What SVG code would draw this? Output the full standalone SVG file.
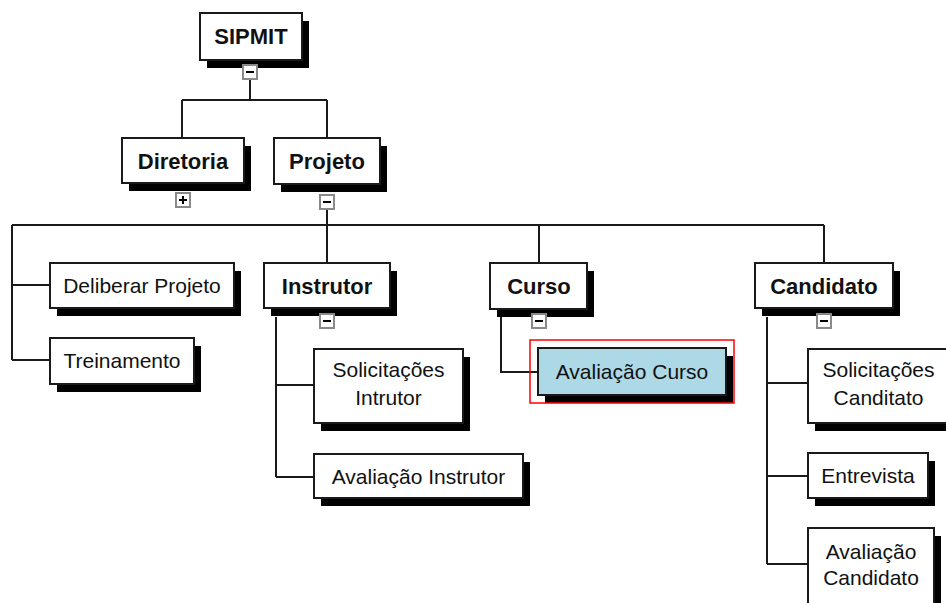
<svg xmlns="http://www.w3.org/2000/svg" width="946" height="603" viewBox="0 0 946 603">
<style>
.box{fill:#fff;stroke:#1a1a1a;stroke-width:2}
.sel{fill:#ADD8E6;stroke:#1a1a1a;stroke-width:2}
.sh{fill:#000}
.lbl{font-family:"Liberation Sans",Arial,sans-serif;font-size:21px;fill:#111;text-anchor:middle}
.bold{font-weight:bold;font-size:22px}
.tg{fill:#fff;stroke:#8a8a8a;stroke-width:2}
.tgs{stroke:#000;stroke-width:2}
.con{fill:none;stroke:#1a1a1a;stroke-width:2}
</style>
<rect width="946" height="603" fill="#fff"/>
<g id="connectors">
<path class="con" d="M250 79V100M182 100H327M182 100V138M327 100V138"/>
<path class="con" d="M327 209V263M12 225H824M12 225V360M12 285H50M12 360H50M539 225V263M824 225V263"/>
<path class="con" d="M276 317V477M276 385H314M276 477H314"/>
<path class="con" d="M501 317V372H538"/>
<path class="con" d="M767 317V564M767 383H808M767 476H808M767 564H808"/>
</g>
<g id="n-sipmit">
<rect class="sh" x="207" y="21" width="102" height="47"/>
<rect class="box" x="200" y="13" width="102" height="47"/>
<text class="lbl bold" x="251" y="44">SIPMIT</text>
<rect class="tg" x="243" y="65" width="14" height="14"/>
<line class="tgs" x1="246" y1="72" x2="254" y2="72"/>
</g>
<g id="n-diretoria">
<rect class="sh" x="129" y="146" width="122" height="45"/>
<rect class="box" x="122" y="138" width="122" height="45"/>
<text class="lbl bold" x="183" y="168.5">Diretoria</text>
<rect class="tg" x="176" y="193" width="14" height="14"/>
<line class="tgs" x1="179" y1="200" x2="187" y2="200"/>
<line class="tgs" x1="183" y1="196" x2="183" y2="204"/>
</g>
<g id="n-projeto">
<rect class="sh" x="281" y="146" width="106" height="46"/>
<rect class="box" x="274" y="138" width="106" height="46"/>
<text class="lbl bold" x="327" y="169">Projeto</text>
<rect class="tg" x="320" y="195" width="14" height="14"/>
<line class="tgs" x1="323" y1="202" x2="331" y2="202"/>
</g>
<g id="n-deliberar">
<rect class="sh" x="57" y="271" width="184" height="45"/>
<rect class="box" x="50" y="263" width="184" height="45"/>
<text class="lbl" x="142" y="293">Deliberar Projeto</text>
</g>
<g id="n-treinamento">
<rect class="sh" x="57" y="346" width="144" height="46"/>
<rect class="box" x="50" y="338" width="144" height="46"/>
<text class="lbl" x="122" y="368">Treinamento</text>
</g>
<g id="n-instrutor">
<rect class="sh" x="271" y="271" width="126" height="45"/>
<rect class="box" x="264" y="263" width="126" height="45"/>
<text class="lbl bold" x="327" y="294">Instrutor</text>
<rect class="tg" x="320" y="314" width="14" height="14"/>
<line class="tgs" x1="323" y1="321" x2="331" y2="321"/>
</g>
<g id="n-solic-instrutor">
<rect class="sh" x="321" y="357" width="149" height="74"/>
<rect class="box" x="314" y="349" width="149" height="74"/>
<text class="lbl" x="388.5" y="377">Solicitações</text>
<text class="lbl" x="388.5" y="405">Intrutor</text>
</g>
<g id="n-aval-instrutor">
<rect class="sh" x="321" y="462" width="209" height="44"/>
<rect class="box" x="314" y="454" width="209" height="44"/>
<text class="lbl" x="418.5" y="483.5">Avaliação Instrutor</text>
</g>
<g id="n-curso">
<rect class="sh" x="497" y="271" width="97" height="46"/>
<rect class="box" x="490" y="263" width="97" height="46"/>
<text class="lbl bold" x="539" y="294">Curso</text>
<rect class="tg" x="532" y="314" width="14" height="14"/>
<line class="tgs" x1="535" y1="321" x2="543" y2="321"/>
</g>
<g id="n-aval-curso">
<rect class="sh" x="545" y="356" width="188" height="47"/>
<rect class="sel" x="538" y="348" width="188" height="47"/>
<text class="lbl" x="632" y="379">Avaliação Curso</text>
<rect x="530" y="340" width="204" height="63" fill="none" stroke="#ff0000" stroke-width="1.5"/>
</g>
<g id="n-candidato">
<rect class="sh" x="762" y="271" width="138" height="45"/>
<rect class="box" x="755" y="263" width="138" height="45"/>
<text class="lbl bold" x="824" y="294">Candidato</text>
<rect class="tg" x="817" y="314" width="14" height="14"/>
<line class="tgs" x1="820" y1="321" x2="828" y2="321"/>
</g>
<g id="n-solic-candidato">
<rect class="sh" x="815" y="357" width="141" height="74"/>
<rect class="box" x="808" y="349" width="141" height="74"/>
<text class="lbl" x="878.5" y="377">Solicitações</text>
<text class="lbl" x="878.5" y="405">Canditato</text>
</g>
<g id="n-entrevista">
<rect class="sh" x="815" y="461" width="120" height="45"/>
<rect class="box" x="808" y="453" width="120" height="45"/>
<text class="lbl" x="868" y="483">Entrevista</text>
</g>
<g id="n-aval-candidato">
<rect class="sh" x="815" y="536" width="126" height="90"/>
<rect class="box" x="808" y="528" width="126" height="90"/>
<text class="lbl" x="871" y="559">Avaliação</text>
<text class="lbl" x="871" y="585">Candidato</text>
</g>
</svg>
